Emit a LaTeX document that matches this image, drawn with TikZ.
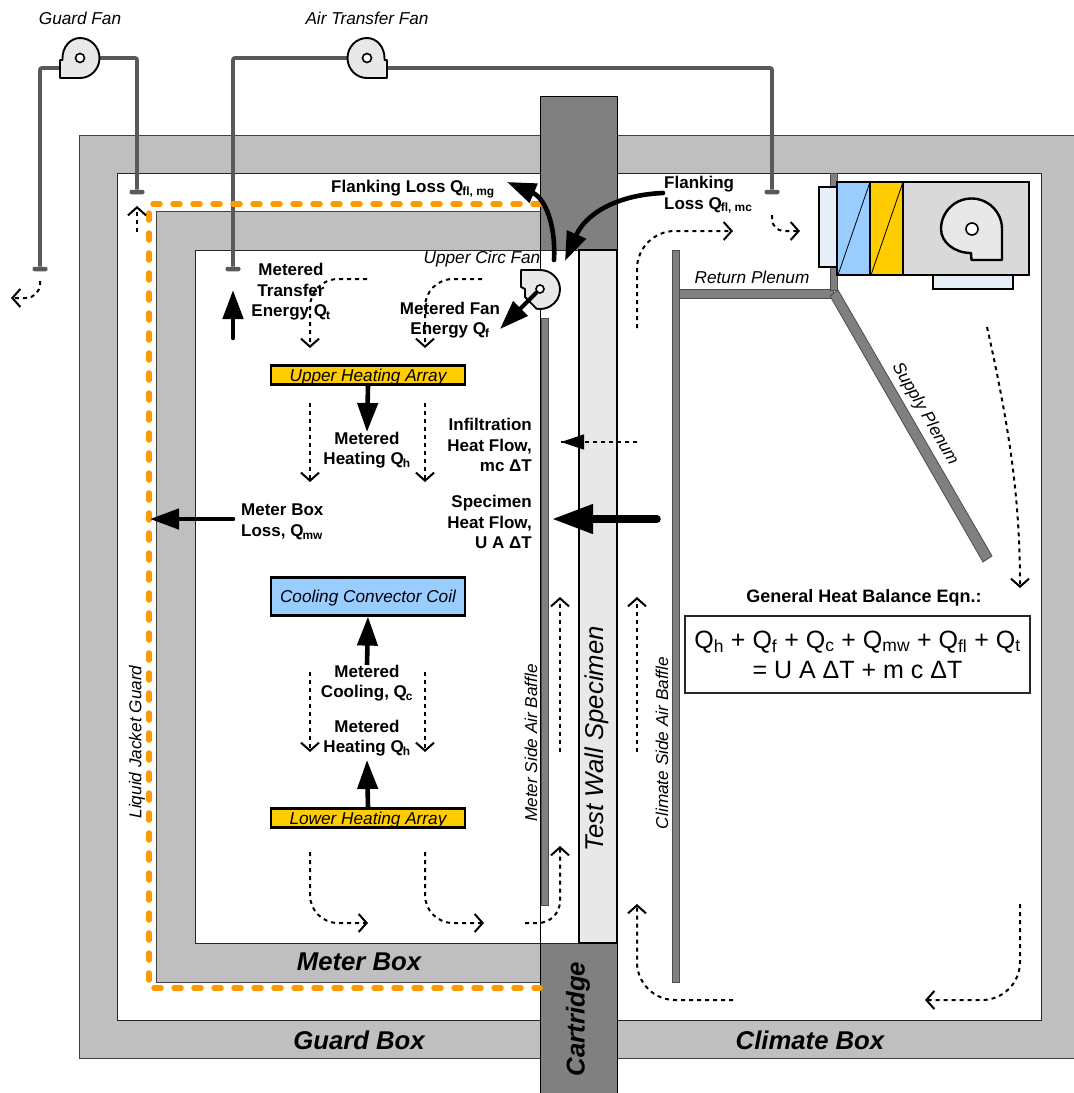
\documentclass[tikz,border=0pt]{standalone}
\usepackage{fontspec}
\setmainfont{Liberation Sans}
\usetikzlibrary{positioning,calc}
\usetikzlibrary{arrows.meta}
\definecolor{WallGray}{RGB}{191,191,191}
\definecolor{CartGray}{RGB}{128,128,128}
\definecolor{DuctGray}{RGB}{89,89,89}
\definecolor{GuardOrange}{RGB}{255,153,0}
\definecolor{CoilBlue}{RGB}{153,204,255}
\definecolor{HeatYellow}{RGB}{255,204,0}
\definecolor{SoftGray}{RGB}{232,232,232}
\definecolor{PaleBlue}{RGB}{230,238,248}
\newcommand{\qsub}[1]{Q\kern-1pt\textsubscript{#1}}
\tikzset{
  wall/.style={draw=black!75,fill=WallGray,line width=0.9pt},
  room/.style={draw=black!85,fill=white,line width=0.9pt},
  baffle/.style={draw=black!70,fill=CartGray,line width=0.8pt},
  duct/.style={draw=DuctGray,line width=3.8pt},
  tee/.style={draw=none,fill=DuctGray,rounded corners=2pt,minimum width=15pt,minimum height=4.5pt,inner sep=0pt},
  fanbody/.style={draw=black,fill=SoftGray,line width=1.9pt,line join=round},
  hub/.style={circle,draw=black,fill=white,line width=1.6pt,minimum size=9pt,inner sep=0pt},
  unit/.style={draw=black,line width=2.4pt},
  flow/.style={draw=black,line width=2pt,dash pattern=on 4pt off 4pt,
    -{Straight Barb[length=8pt,width=18pt,line width=2pt]}},
  heat/.style={-{Triangle[length=29pt,width=20pt]},line width=4.6pt,line cap=round},
  bighead/.style={-{Triangle[length=41pt,width=28pt]},line width=7.5pt,line cap=round},
  array/.style={draw=black,line width=2.2pt,minimum width=194pt,inner sep=0pt,align=center,
    text height=14pt,text depth=2pt,font=\itshape\fontsize{17.2}{18}\selectfont},
  lab/.style={inner sep=0pt,align=center,font=\bfseries\fontsize{17}{20.6}\selectfont},
  tag/.style={inner sep=0pt,font=\itshape\fontsize{17.2}{18}\selectfont},
  boxname/.style={inner sep=0pt,font=\bfseries\itshape\fontsize{25.7}{28}\selectfont},
}
\begin{document}
\begin{tikzpicture}[x=1pt,y=-1pt]
\useasboundingbox (0,0) rectangle (1074,1093);
% boxes
\fill[white] (0,0) rectangle (1074,1093);
\path[wall] (79,135) rectangle (1080,1058);
\path[room] (117,173) rectangle (1041,1020);
\path[wall] (156,211) rectangle (560,982);
\path[room] (195,250) rectangle (578,943);
\path[baffle,draw=black,fill=CartGray] (540,96) rectangle (617,1098);
\fill[white] (541,250) rectangle (578,943);
\draw[black!85,line width=0.9pt] (540,250) -- (578,250);
\draw[black!85,line width=0.9pt] (540,943) -- (578,943);
\path[draw=black,fill=SoftGray,line width=2pt] (579,250) rectangle (617,943);
% baffles and plenums
\path[baffle] (541,318) rectangle (548,905);
\path[baffle] (672,250) rectangle (679,982);
\path[baffle] (679,289) rectangle (833,298);
\path[baffle] (830,173) rectangle (837,290);
\path[baffle] (830,296) -- (838,290) -- (992,556) -- (983,562) -- cycle;
% air handler
\path[unit,fill=PaleBlue] (819,187) rectangle (837,267);
\path[unit,fill=PaleBlue] (933,275) rectangle (1013,289);
\path[unit,fill=CoilBlue] (837,182) rectangle (870,275);
\path[unit,fill=HeatYellow] (870,182) rectangle (903,275);
\path[unit,fill=black!15] (903,182) rectangle (1029,275);
\draw[black,line width=0.8pt] (838,275) -- (870,182);
\draw[black,line width=0.8pt] (871,275) -- (903,182);
\path[fanbody,line width=2.4pt] (1002,260) -- (1002,229) arc (0:-180:30.5)
  arc[start angle=180,end angle=90,x radius=30,y radius=24] -- (971.5,260) -- cycle;
\node[hub,fill=white,minimum size=12pt] (fanac) at (972,229) {};
% fans
\coordinate (gfl) at (60,68);
\coordinate (gfr) at (97,58);
\coordinate (tfl) at (348,58);
\coordinate (tfr) at (386,68);
\node[tee] (gin) at (137,192) {};
\node[tee] (gout) at (40,269) {};
\node[tee] (tin) at (233,269) {};
\node[tee] (tout) at (772,192) {};
\draw[duct,rounded corners=2pt] (gin) |- (gfr);
\draw[duct,rounded corners=2pt] (gout) |- (gfl);
\draw[duct,rounded corners=2pt] (tin) |- (tfl);
\draw[duct,rounded corners=2pt] (tout) |- (tfr);
\path[fanbody] (80,78) arc (90:-90:19.5 and 20) arc[start angle=-90,end angle=-180,x radius=17.5,y radius=20]
  -- (62.5,60) -- (60,60) -- (60,78) -- cycle;
\node[hub] (gfan) at (80,58) {};
\path[fanbody] (367,78) arc (90:270:19.5 and 20) arc[start angle=-90,end angle=0,x radius=17.5,y radius=20]
  -- (384.5,60) -- (387,60) -- (387,78) -- cycle;
\node[hub] (tfan) at (367,58) {};
\path[fanbody] (521,270) -- (540,270) arc (-90:100:20 and 19.5) -- (525,297) -- (525,289) -- (521,287) -- cycle;
\node[hub,minimum size=8pt] (cfan) at (540,289) {};
% liquid jacket line
\coordinate (j1) at (540,204);
\coordinate (j2) at (149,204);
\coordinate (j3) at (149,988);
\coordinate (j4) at (540,988);
\draw[GuardOrange,line width=5.5pt,line cap=round,dash pattern=on 7pt off 13pt] (j1) -- (j2) -- (j3) -- (j4);
% air flow
\coordinate (a1) at (40,281);
\coordinate (a2) at (11,298);
\coordinate (a3) at (137,232);
\coordinate (a4) at (137,206);
\coordinate (a5) at (367,279);
\coordinate (a6) at (310,348);
\coordinate (a7) at (482,279);
\coordinate (a8) at (425,348);
\coordinate (a9) at (637,328);
\coordinate (a10) at (733,231);
\coordinate (a11) at (772,215);
\coordinate (a12) at (800,231);
\coordinate (a13) at (987,327);
\coordinate (a14) at (1020,588);
\coordinate (u1) at (310,403);
\coordinate (u2) at (310,482);
\coordinate (u3) at (425,403);
\coordinate (u4) at (425,482);
\coordinate (m1) at (560,752);
\coordinate (m2) at (560,597);
\coordinate (m3) at (637,752);
\coordinate (m4) at (637,597);
\coordinate (l1) at (310,672);
\coordinate (l2) at (310,752);
\coordinate (l3) at (425,672);
\coordinate (l4) at (425,752);
\coordinate (b1) at (310,852);
\coordinate (b2) at (368,923);
\coordinate (b3) at (425,852);
\coordinate (b4) at (484,923);
\coordinate (b5) at (525,923);
\coordinate (b6) at (560,846);
\coordinate (c1) at (733,1000);
\coordinate (c2) at (637,904);
\coordinate (c3) at (1020,904);
\coordinate (c4) at (925,1000);
\draw[flow,rounded corners=14pt] (a1) |- (a2);
\draw[flow] (a3) -- (a4);
\draw[flow,rounded corners=28pt] (a5) -| (a6);
\draw[flow,rounded corners=28pt] (a7) -| (a8);
\draw[flow,rounded corners=38pt] (a9) |- (a10);
\draw[flow,rounded corners=12pt] (a11) |- (a12);
\draw[flow] (a13) .. controls (1010,430) and (1020,500) .. (a14);
\draw[flow] (u1) -- (u2);
\draw[flow] (u3) -- (u4);
\draw[flow] (m1) -- (m2);
\draw[flow] (m3) -- (m4);
\draw[flow] (l1) -- (l2);
\draw[flow] (l3) -- (l4);
\draw[flow,rounded corners=28pt] (b1) |- (b2);
\draw[flow,rounded corners=28pt] (b3) |- (b4);
\draw[flow,rounded corners=22pt] (b5) -| (b6);
\draw[flow,rounded corners=38pt] (c1) -| (c2);
\draw[flow,rounded corners=38pt] (c3) |- (c4);
% arrays
\node[array,fill=HeatYellow,minimum height=19pt] (uh) at (368,375) {Upper Heating Array};
\node[array,fill=CoilBlue,minimum height=38pt] (coil) at (368,596.5) {Cooling Convector Coil};
\node[array,fill=HeatYellow,minimum height=19pt] (lh) at (368,818) {Lower Heating Array};
% heat flows
\coordinate (q1) at (233,338);
\coordinate (q2) at (233,290);
\coordinate (q3) at (367,432);
\coordinate (q4) at (233,519);
\coordinate (q5) at (150,519);
\coordinate (q6) at (657,519);
\coordinate (q7) at (552,519);
\coordinate (q8) at (367,665);
\coordinate (q9) at (367,760);
\coordinate (q10) at (637,442);
\coordinate (q11) at (561,442);
\coordinate (q12) at (554,260);
\coordinate (q13) at (507,182);
\coordinate (q14) at (663,193);
\coordinate (q15) at (565,261);
\coordinate (q16) at (500,329);
\draw[heat] (q1) -- (q2);
\draw[heat,line cap=butt] (uh.south) -- (q3);
\draw[heat] (q4) -- (q5);
\draw[bighead] (q6) -- (q7);
\draw[heat,line cap=butt] (q8) -- (coil.south);
\draw[heat,line cap=butt] (lh.north) -- (q9);
\draw[line width=2pt,dash pattern=on 4pt off 4pt] (q10) -- (q11);
\draw[-{Triangle[length=23pt,width=15pt]},line width=1.5pt] ($(q11)+(8,0)$) -- (q11);
\draw[heat] (q12) .. controls (556,225) and (545,198) .. (q13);
\draw[heat] (q14) .. controls (615,195) and (585,215) .. (q15);
\draw[heat,line width=4pt] (cfan) -- (q16);
% labels
\node[tag] (gfanl) at (80,18) {Guard Fan};
\node[tag] (tfanl) at (367,18) {Air Transfer Fan};
\node[tag] (cfanl) at (482,259) {Upper Circ Fan};
\node[tag] (rpl) at (752,277) {Return Plenum};
\node[tag,rotate=-60] (spl) at (925,414) {Supply Plenum};
\node[tag,rotate=90] (msb) at (531,743) {Meter Side Air Baffle};
\node[tag,rotate=90] (csb) at (662,743) {Climate Side Air Baffle};
\node[tag,rotate=90] (ljg) at (137,742) {Liquid Jacket Guard};
\node[tag,rotate=90,font=\itshape\fontsize{25.7}{28}\selectfont] (tws) at (597,739) {Test Wall Specimen};
\node[boxname] (mbx) at (359,962) {Meter Box};
\node[boxname] (gbx) at (359,1040) {Guard Box};
\node[boxname] (cbx) at (810,1040) {Climate Box};
\node[boxname,rotate=90] (crt) at (578,1019) {Cartridge};
\node[lab,anchor=west] (fmg) at (331,189) {Flanking Loss \qsub{fl, mg}};
\node[lab,align=left,anchor=west] (fmc) at (664,195) {Flanking\\Loss \qsub{fl, mc}};
\node[lab] (qt) at (291,292) {Metered\\Transfer\\Energy \qsub{t}};
\node[lab] (qf) at (450,320) {Metered Fan\\Energy \qsub{f}};
\node[lab] (qh1) at (367,450) {Metered\\Heating \qsub{h}};
\node[lab,align=right,anchor=east] (ifl) at (532,445) {Infiltration\\Heat Flow,\\mc ΔT};
\node[lab,align=right,anchor=east] (sfl) at (532,522) {Specimen\\Heat Flow,\\U A ΔT};
\node[lab,align=left,anchor=west] (qmw) at (241,522) {Meter Box\\Loss, \qsub{mw}};
\node[lab] (qc) at (367,683) {Metered\\Cooling, \qsub{c}};
\node[lab] (qh2) at (367,738) {Metered\\Heating \qsub{h}};
\node[lab,font=\bfseries\fontsize{18}{20.6}\selectfont] (gheq) at (864,598) {General Heat Balance Eqn.:};
\node[draw=black!85,fill=white,line width=1.2pt,minimum width=345pt,minimum height=77pt,inner sep=0pt,align=center,
  font=\fontsize{25}{30}\selectfont] (eqn) at (857.5,654.5) {Q\textsubscript{h} + Q\textsubscript{f} + Q\textsubscript{c} + Q\textsubscript{mw} + Q\textsubscript{fl} + Q\textsubscript{t}\\= U A ΔT + m c ΔT};
\end{tikzpicture}
\end{document}
